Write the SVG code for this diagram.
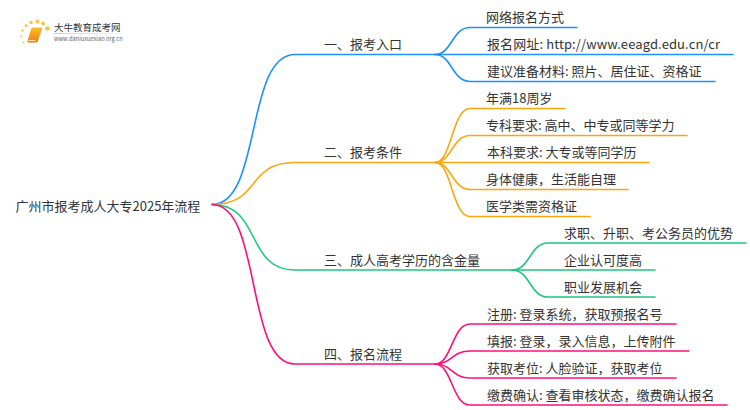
<svg xmlns="http://www.w3.org/2000/svg" width="750" height="410" viewBox="0 0 750 410">
<style>
text{font-family:"Noto Sans CJK SC","Noto Sans",sans-serif;font-size:13px;fill:#333}
.c{fill:none;stroke-width:1.6;stroke-linecap:round}
.b{stroke:#1e90ff}.o{stroke:#f9a70d}.g{stroke:#1ec77e}.p{stroke:#ff0f7b}
</style>
<rect width="750" height="410" fill="#fff"/>
<g id="logo">
<defs><linearGradient id="bk" x1="0" y1="0" x2="0" y2="1"><stop offset="0" stop-color="#fcc02a"/><stop offset="1" stop-color="#f07c10"/></linearGradient>
<linearGradient id="ln" x1="0" x2="1"><stop offset="0" stop-color="#ccc"/><stop offset="1" stop-color="#fff"/></linearGradient></defs>
<g fill="#fbc34a"><circle cx="47.500" cy="28.500" r="2.300"/><circle cx="43" cy="23.500" r="1.900"/><circle cx="37.500" cy="21.500" r="1.900"/><circle cx="31" cy="22.500" r="1.800"/><circle cx="26" cy="25.500" r="1.500"/><circle cx="22.500" cy="30.500" r="1.300"/><circle cx="21" cy="36.500" r="1"/><circle cx="23.500" cy="42.500" r="1"/></g>
<path d="M31.500 27.500h9.500q1.500 0 1 1.500l-4 12q-.5 1.500-2 1.500h-7.500q-1.500 0-1-1.500l3.500-12q.5-1.500 1-1.500z" fill="url(#bk)"/>
<path d="M28.500 40.500h7" stroke="#fde6b0" stroke-width="1" fill="none"/>
<rect x="54" y="33" width="78" height="1" fill="url(#ln)"/>
<text x="54" y="31" style="font-size:9.500px">大牛教育成考网</text>
<text x="54" y="41" style="font-size:5.700px;fill:#666">www.daniuxuexiao.org.cn</text>
</g>
<g id="connectors">
<path class="c b" d="M212 204.500C262 204.500 245 54.500 295 54.500H435"/>
<path class="c b" d="M435 54.500C452 54.500 452 27.500 470 27.500H577"/>
<path class="c b" d="M435 54.500H733"/>
<path class="c b" d="M435 54.500C452 54.500 452 81.500 470 81.500H715"/>
<path class="c o" d="M212 204.500C262 204.500 245 162.500 295 162.500H435"/>
<path class="c o" d="M435 162.500C452 162.500 452 108.500 470 108.500H565"/>
<path class="c o" d="M435 162.500C452 162.500 452 135.500 470 135.500H687"/>
<path class="c o" d="M435 162.500H649"/>
<path class="c o" d="M435 162.500C452 162.500 452 189.500 470 189.500H628"/>
<path class="c o" d="M435 162.500C452 162.500 452 216.500 470 216.500H590"/>
<path class="c g" d="M212 204.500C262 204.500 245 270 295 270H512"/>
<path class="c g" d="M512 270C530 270 530 243 548 243H746"/>
<path class="c g" d="M512 270H655"/>
<path class="c g" d="M512 270C530 270 530 297 548 297H655"/>
<path class="c p" d="M212 204.500C262 204.500 245 364 295 364H435"/>
<path class="c p" d="M435 364C452 364 452 324 470 324H676"/>
<path class="c p" d="M435 364C452 364 452 351 470 351H689"/>
<path class="c p" d="M435 364C452 364 452 378 470 378H676"/>
<path class="c p" d="M435 364C452 364 452 405 470 405H727"/>
</g>
<g id="root"><text x="15.500" y="210.500">广州市报考成人大专2025年流程</text></g>
<g id="n1"><text x="324" y="49">一、报考入口</text></g>
<g id="n1a"><text x="486" y="22">网络报名方式</text></g>
<g id="n1b"><text x="487" y="49" textLength="233">报名网址: http://www.eeagd.edu.cn/cr</text></g>
<g id="n1c"><text x="487" y="76">建议准备材料: 照片、居住证、资格证</text></g>
<g id="n2"><text x="324" y="157">二、报考条件</text></g>
<g id="n2a"><text x="486" y="103">年满18周岁</text></g>
<g id="n2b"><text x="486" y="130">专科要求: 高中、中专或同等学力</text></g>
<g id="n2c"><text x="487" y="157">本科要求: 大专或等同学历</text></g>
<g id="n2d"><text x="486" y="184">身体健康，生活能自理</text></g>
<g id="n2e"><text x="486" y="211">医学类需资格证</text></g>
<g id="n3"><text x="324" y="265">三、成人高考学历的含金量</text></g>
<g id="n3a"><text x="564" y="238">求职、升职、考公务员的优势</text></g>
<g id="n3b"><text x="564" y="265">企业认可度高</text></g>
<g id="n3c"><text x="564" y="292">职业发展机会</text></g>
<g id="n4"><text x="324" y="359">四、报名流程</text></g>
<g id="n4a"><text x="487" y="319">注册: 登录系统，获取预报名号</text></g>
<g id="n4b"><text x="487" y="346">填报: 登录，录入信息，上传附件</text></g>
<g id="n4c"><text x="487" y="373">获取考位: 人脸验证，获取考位</text></g>
<g id="n4d"><text x="487" y="400">缴费确认: 查看审核状态，缴费确认报名</text></g>
</svg>
